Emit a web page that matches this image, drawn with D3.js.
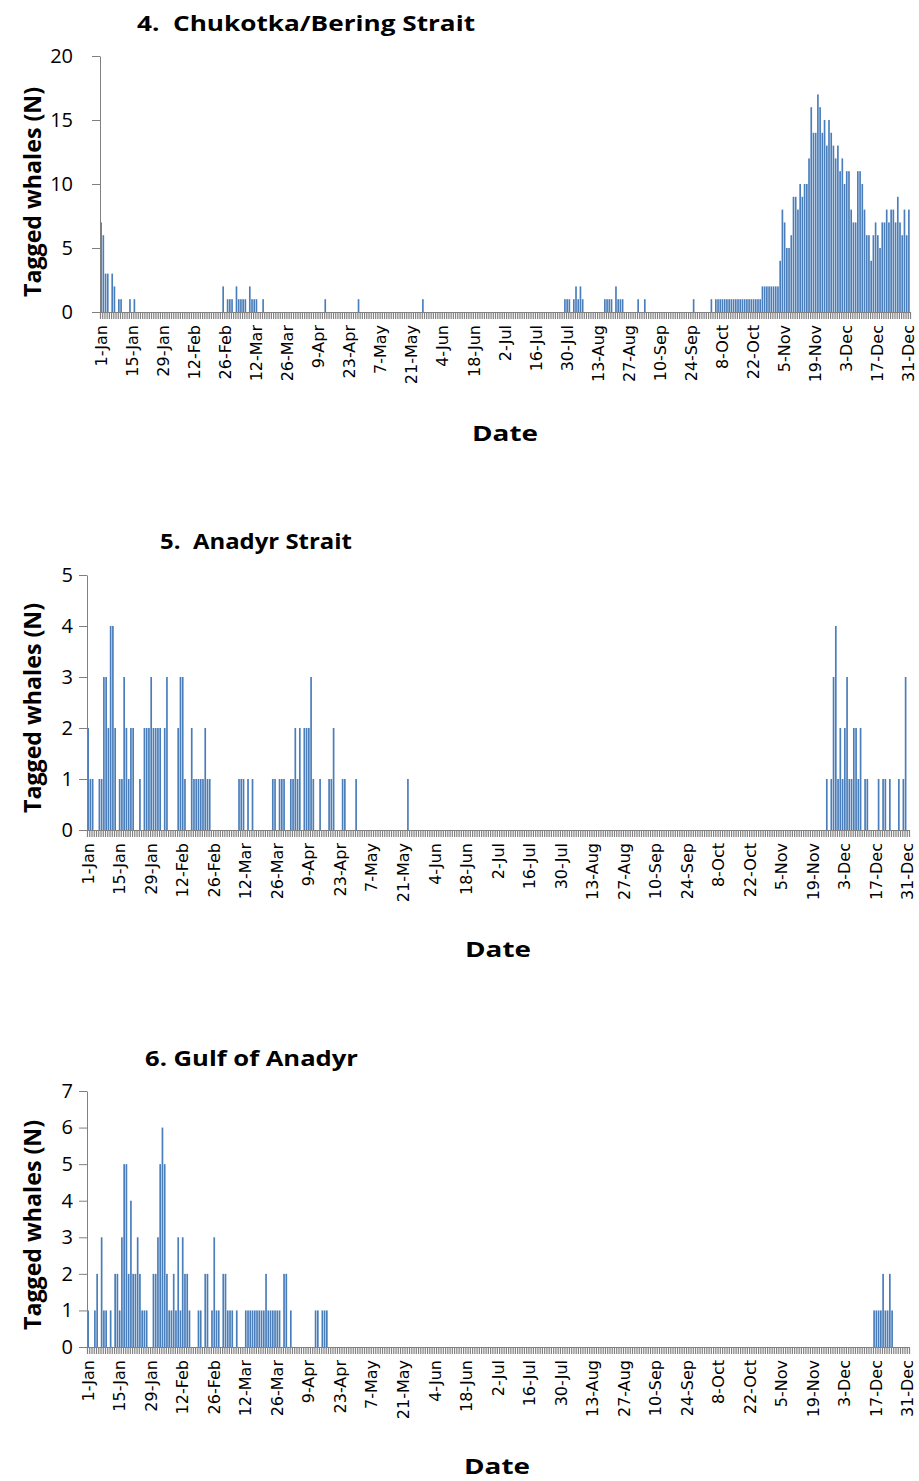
<!DOCTYPE html>
<html>
<head>
<meta charset="utf-8">
<script src="https://cdn.jsdelivr.net/npm/d3@7"></script>
<style>
    body { margin: 0; background: #fff; }
    svg text { font-family: "Open Sans", sans-serif; fill: #000; }
</style>
</head>
<body>
<div id="my_dataviz"></div>
<script>
// category axis labels, one every 14 days
const tickLabels = ["1-Jan", "15-Jan", "29-Jan", "12-Feb", "26-Feb", "12-Mar", "26-Mar", "9-Apr", "23-Apr",
    "7-May", "21-May", "4-Jun", "18-Jun", "2-Jul", "16-Jul", "30-Jul", "13-Aug", "27-Aug", "10-Sep",
    "24-Sep", "8-Oct", "22-Oct", "5-Nov", "19-Nov", "3-Dec", "17-Dec", "31-Dec"];

// daily counts of tagged whales, one row = 14 days starting at the tick label
const chukotkaCounts = [
    7, 6, 3, 3, 0, 3, 2, 0, 1, 1, 0, 0, 0, 1,          // 1-Jan
    0, 1, 0, 0, 0, 0, 0, 0, 0, 0, 0, 0, 0, 0,          // 15-Jan
    0, 0, 0, 0, 0, 0, 0, 0, 0, 0, 0, 0, 0, 0,          // 29-Jan
    0, 0, 0, 0, 0, 0, 0, 0, 0, 0, 0, 0, 0, 2,          // 12-Feb
    0, 1, 1, 1, 0, 2, 1, 1, 1, 1, 0, 2, 1, 1,          // 26-Feb
    1, 0, 0, 1, 0, 0, 0, 0, 0, 0, 0, 0, 0, 0,          // 12-Mar
    0, 0, 0, 0, 0, 0, 0, 0, 0, 0, 0, 0, 0, 0,          // 26-Mar
    0, 0, 0, 1, 0, 0, 0, 0, 0, 0, 0, 0, 0, 0,          // 9-Apr
    0, 0, 0, 0, 1, 0, 0, 0, 0, 0, 0, 0, 0, 0,          // 23-Apr
    0, 0, 0, 0, 0, 0, 0, 0, 0, 0, 0, 0, 0, 0,          // 7-May
    0, 0, 0, 0, 0, 1, 0, 0, 0, 0, 0, 0, 0, 0,          // 21-May
    0, 0, 0, 0, 0, 0, 0, 0, 0, 0, 0, 0, 0, 0,          // 4-Jun
    0, 0, 0, 0, 0, 0, 0, 0, 0, 0, 0, 0, 0, 0,          // 18-Jun
    0, 0, 0, 0, 0, 0, 0, 0, 0, 0, 0, 0, 0, 0,          // 2-Jul
    0, 0, 0, 0, 0, 0, 0, 0, 0, 0, 0, 0, 0, 1,          // 16-Jul
    1, 1, 0, 1, 2, 1, 2, 1, 0, 0, 0, 0, 0, 0,          // 30-Jul
    0, 0, 0, 1, 1, 1, 1, 0, 2, 1, 1, 1, 0, 0,          // 13-Aug
    0, 0, 0, 0, 1, 0, 0, 1, 0, 0, 0, 0, 0, 0,          // 27-Aug
    0, 0, 0, 0, 0, 0, 0, 0, 0, 0, 0, 0, 0, 0,          // 10-Sep
    0, 1, 0, 0, 0, 0, 0, 0, 0, 1, 0, 1, 1, 1,          // 24-Sep
    1, 1, 1, 1, 1, 1, 1, 1, 1, 1, 1, 1, 1, 1,          // 8-Oct
    1, 1, 1, 1, 2, 2, 2, 2, 2, 2, 2, 2, 4, 8,          // 22-Oct
    7, 5, 5, 6, 9, 9, 8, 10, 9, 10, 10, 12, 16, 14,    // 5-Nov
    14, 17, 16, 14, 15, 13, 15, 14, 13, 12, 13, 11, 12, 10, // 19-Nov
    11, 11, 8, 7, 7, 11, 11, 10, 8, 6, 6, 4, 6, 7,     // 3-Dec
    6, 5, 7, 7, 8, 7, 8, 8, 7, 9, 7, 6, 8, 6,          // 17-Dec
    8                                                  // 31-Dec
];

const anadyrStraitCounts = [
    2, 1, 1, 0, 0, 1, 1, 3, 3, 2, 4, 4, 2, 0,          // 1-Jan
    1, 1, 3, 2, 1, 2, 2, 0, 0, 1, 0, 2, 2, 2,          // 15-Jan
    3, 2, 2, 2, 2, 0, 2, 3, 0, 0, 0, 0, 2, 3,          // 29-Jan
    3, 1, 0, 0, 2, 1, 1, 1, 1, 1, 2, 1, 1, 0,          // 12-Feb
    0, 0, 0, 0, 0, 0, 0, 0, 0, 0, 0, 1, 1, 1,          // 26-Feb
    0, 1, 0, 1, 0, 0, 0, 0, 0, 0, 0, 0, 1, 1,          // 12-Mar
    0, 1, 1, 1, 0, 0, 1, 1, 2, 1, 2, 0, 2, 2,          // 26-Mar
    2, 3, 1, 0, 0, 1, 0, 0, 0, 1, 1, 2, 0, 0,          // 9-Apr
    0, 1, 1, 0, 0, 0, 0, 1, 0, 0, 0, 0, 0, 0,          // 23-Apr
    0, 0, 0, 0, 0, 0, 0, 0, 0, 0, 0, 0, 0, 0,          // 7-May
    0, 0, 1, 0, 0, 0, 0, 0, 0, 0, 0, 0, 0, 0,          // 21-May
    0, 0, 0, 0, 0, 0, 0, 0, 0, 0, 0, 0, 0, 0,          // 4-Jun
    0, 0, 0, 0, 0, 0, 0, 0, 0, 0, 0, 0, 0, 0,          // 18-Jun
    0, 0, 0, 0, 0, 0, 0, 0, 0, 0, 0, 0, 0, 0,          // 2-Jul
    0, 0, 0, 0, 0, 0, 0, 0, 0, 0, 0, 0, 0, 0,          // 16-Jul
    0, 0, 0, 0, 0, 0, 0, 0, 0, 0, 0, 0, 0, 0,          // 30-Jul
    0, 0, 0, 0, 0, 0, 0, 0, 0, 0, 0, 0, 0, 0,          // 13-Aug
    0, 0, 0, 0, 0, 0, 0, 0, 0, 0, 0, 0, 0, 0,          // 27-Aug
    0, 0, 0, 0, 0, 0, 0, 0, 0, 0, 0, 0, 0, 0,          // 10-Sep
    0, 0, 0, 0, 0, 0, 0, 0, 0, 0, 0, 0, 0, 0,          // 24-Sep
    0, 0, 0, 0, 0, 0, 0, 0, 0, 0, 0, 0, 0, 0,          // 8-Oct
    0, 0, 0, 0, 0, 0, 0, 0, 0, 0, 0, 0, 0, 0,          // 22-Oct
    0, 0, 0, 0, 0, 0, 0, 0, 0, 0, 0, 0, 0, 0,          // 5-Nov
    0, 0, 0, 0, 0, 0, 1, 0, 1, 3, 4, 1, 2, 1,          // 19-Nov
    2, 3, 1, 1, 2, 2, 1, 2, 0, 1, 1, 0, 0, 0,          // 3-Dec
    0, 1, 0, 1, 1, 0, 1, 0, 0, 0, 1, 0, 1, 3,          // 17-Dec
    0                                                  // 31-Dec
];

const gulfAnadyrCounts = [
    1, 0, 0, 1, 2, 0, 3, 1, 1, 0, 1, 0, 2, 2,          // 1-Jan
    1, 3, 5, 5, 2, 4, 2, 2, 3, 2, 1, 1, 1, 0,          // 15-Jan
    0, 2, 2, 3, 5, 6, 5, 2, 1, 1, 2, 1, 3, 1,          // 29-Jan
    3, 2, 2, 1, 0, 0, 0, 1, 1, 0, 2, 2, 0, 1,          // 12-Feb
    3, 1, 1, 0, 2, 2, 1, 1, 1, 0, 1, 0, 0, 0,          // 26-Feb
    1, 1, 1, 1, 1, 1, 1, 1, 1, 2, 1, 1, 1, 1,          // 12-Mar
    1, 1, 0, 2, 2, 0, 1, 0, 0, 0, 0, 0, 0, 0,          // 26-Mar
    0, 0, 0, 1, 1, 0, 1, 1, 1, 0, 0, 0, 0, 0,          // 9-Apr
    0, 0, 0, 0, 0, 0, 0, 0, 0, 0, 0, 0, 0, 0,          // 23-Apr
    0, 0, 0, 0, 0, 0, 0, 0, 0, 0, 0, 0, 0, 0,          // 7-May
    0, 0, 0, 0, 0, 0, 0, 0, 0, 0, 0, 0, 0, 0,          // 21-May
    0, 0, 0, 0, 0, 0, 0, 0, 0, 0, 0, 0, 0, 0,          // 4-Jun
    0, 0, 0, 0, 0, 0, 0, 0, 0, 0, 0, 0, 0, 0,          // 18-Jun
    0, 0, 0, 0, 0, 0, 0, 0, 0, 0, 0, 0, 0, 0,          // 2-Jul
    0, 0, 0, 0, 0, 0, 0, 0, 0, 0, 0, 0, 0, 0,          // 16-Jul
    0, 0, 0, 0, 0, 0, 0, 0, 0, 0, 0, 0, 0, 0,          // 30-Jul
    0, 0, 0, 0, 0, 0, 0, 0, 0, 0, 0, 0, 0, 0,          // 13-Aug
    0, 0, 0, 0, 0, 0, 0, 0, 0, 0, 0, 0, 0, 0,          // 27-Aug
    0, 0, 0, 0, 0, 0, 0, 0, 0, 0, 0, 0, 0, 0,          // 10-Sep
    0, 0, 0, 0, 0, 0, 0, 0, 0, 0, 0, 0, 0, 0,          // 24-Sep
    0, 0, 0, 0, 0, 0, 0, 0, 0, 0, 0, 0, 0, 0,          // 8-Oct
    0, 0, 0, 0, 0, 0, 0, 0, 0, 0, 0, 0, 0, 0,          // 22-Oct
    0, 0, 0, 0, 0, 0, 0, 0, 0, 0, 0, 0, 0, 0,          // 5-Nov
    0, 0, 0, 0, 0, 0, 0, 0, 0, 0, 0, 0, 0, 0,          // 19-Nov
    0, 0, 0, 0, 0, 0, 0, 0, 0, 0, 0, 0, 0, 1,          // 3-Dec
    1, 1, 1, 2, 1, 1, 2, 1, 0, 0, 0, 0, 0, 0,          // 17-Dec
    0                                                  // 31-Dec
];

const panelTitles = ["4.  Chukotka/Bering Strait", "5.  Anadyr Strait", "6. Gulf of Anadyr"];
const yTickValues = [[0, 5, 10, 15, 20], [0, 1, 2, 3, 4, 5], [0, 1, 2, 3, 4, 5, 6, 7]];

// day names for the category axis (non-leap year)
const dayNames = d3.timeDays(new Date(2013, 0, 1), new Date(2014, 0, 1)).map(d3.timeFormat("%-d-%b"));

const svg = d3.select("#my_dataviz")
    .append("svg")
    .attr("width", 919)
    .attr("height", 1481);

const panels = [
    { values: chukotkaCounts, title: panelTitles[0], ticks: yTickValues[0],
      left: 100, right: 910, top: 56, bottom: 312,
      titleX: 137, titleY: 31, titleW: 338, dateX: 505, dateY: 441, labelY: 192 },
    { values: anadyrStraitCounts, title: panelTitles[1], ticks: yTickValues[1],
      left: 87, right: 909, top: 575, bottom: 830,
      titleX: 160, titleY: 549, titleW: 192, dateX: 498, dateY: 957, labelY: 708 },
    { values: gulfAnadyrCounts, title: panelTitles[2], ticks: yTickValues[2],
      left: 87, right: 909, top: 1091, bottom: 1347,
      titleX: 145, titleY: 1066, titleW: 213, dateX: 497, dateY: 1474, labelY: 1225 }
];

const axisColor = "#808080";
const tickLabelRight = 73;

panels.forEach(p => {
    const g = svg.append("g");

    const x = d3.scaleBand()
        .domain(dayNames)
        .range([p.left, p.right])
        .paddingInner(0.25)
        .paddingOuter(0.125);

    const xEdge = d3.scaleLinear().domain([0, dayNames.length]).range([p.left, p.right]);

    const y = d3.scaleLinear()
        .domain([0, d3.max(p.ticks)])
        .range([p.bottom, p.top]);

    // title (picture is stretched horizontally, so stretch the glyphs too)
    g.append("text")
        .attr("x", p.titleX)
        .attr("y", p.titleY)
        .attr("textLength", p.titleW)
        .attr("lengthAdjust", "spacingAndGlyphs")
        .style("white-space", "pre")
        .text(p.title)
        .style("font-size", "21px")
        .style("font-weight", "bold");

    // bars
    g.append("g")
        .selectAll("rect")
        .data(p.values.map((v, i) => ({ day: dayNames[i], value: v })))
        .join("rect")
        .attr("x", d => x(d.day))
        .attr("width", x.bandwidth())
        .attr("y", d => y(d.value))
        .attr("height", d => y(0) - y(d.value))
        .attr("fill", "#4A7EBB");

    // y axis
    const yAxis = g.append("g")
        .attr("transform", `translate(${p.left},0)`)
        .call(d3.axisLeft(y)
            .tickValues(p.ticks)
            .tickFormat(d3.format("d"))
            .tickSize(8)
            .tickSizeOuter(0)
            .tickPadding(p.left - 8 - tickLabelRight));
    yAxis.selectAll("path, line").attr("stroke", axisColor);
    yAxis.selectAll("text")
        .style("font-size", "20px")
        .style("font-family", "Open Sans")
        .attr("fill", "#222");

    // dense category tick marks (one per day)
    const xTicks = g.append("g")
        .attr("transform", `translate(0,${p.bottom})`)
        .call(d3.axisBottom(xEdge)
            .tickValues(d3.range(0, dayNames.length + 1))
            .tickSize(7)
            .tickSizeOuter(0)
            .tickFormat(""));
    xTicks.selectAll("path, line").attr("stroke", axisColor).attr("stroke-width", 1.2);

    // date labels every two weeks
    const xLabels = g.append("g")
        .attr("transform", `translate(0,${p.bottom})`)
        .call(d3.axisBottom(x).tickValues(tickLabels).tickSize(0));
    xLabels.select("path").remove();
    xLabels.selectAll("text")
        .attr("transform", "rotate(-90)")
        .attr("text-anchor", "end")
        .attr("x", -13)
        .attr("y", 0)
        .attr("dy", "0.35em")
        .style("font-size", "16px")
        .style("font-family", "DejaVu Sans")
        .attr("fill", "#222");

    // axis titles
    g.append("text")
        .attr("transform", "rotate(-90)")
        .attr("x", -p.labelY)
        .attr("y", 41)
        .attr("text-anchor", "middle")
        .attr("textLength", 210)
        .attr("lengthAdjust", "spacingAndGlyphs")
        .text("Tagged whales (N)")
        .style("font-size", "23px")
        .style("font-weight", "bold");

    g.append("text")
        .attr("x", p.dateX)
        .attr("y", p.dateY)
        .attr("text-anchor", "middle")
        .attr("textLength", 66)
        .attr("lengthAdjust", "spacingAndGlyphs")
        .text("Date")
        .style("font-size", "22px")
        .style("font-weight", "bold");
});
</script>
</body>
</html>
